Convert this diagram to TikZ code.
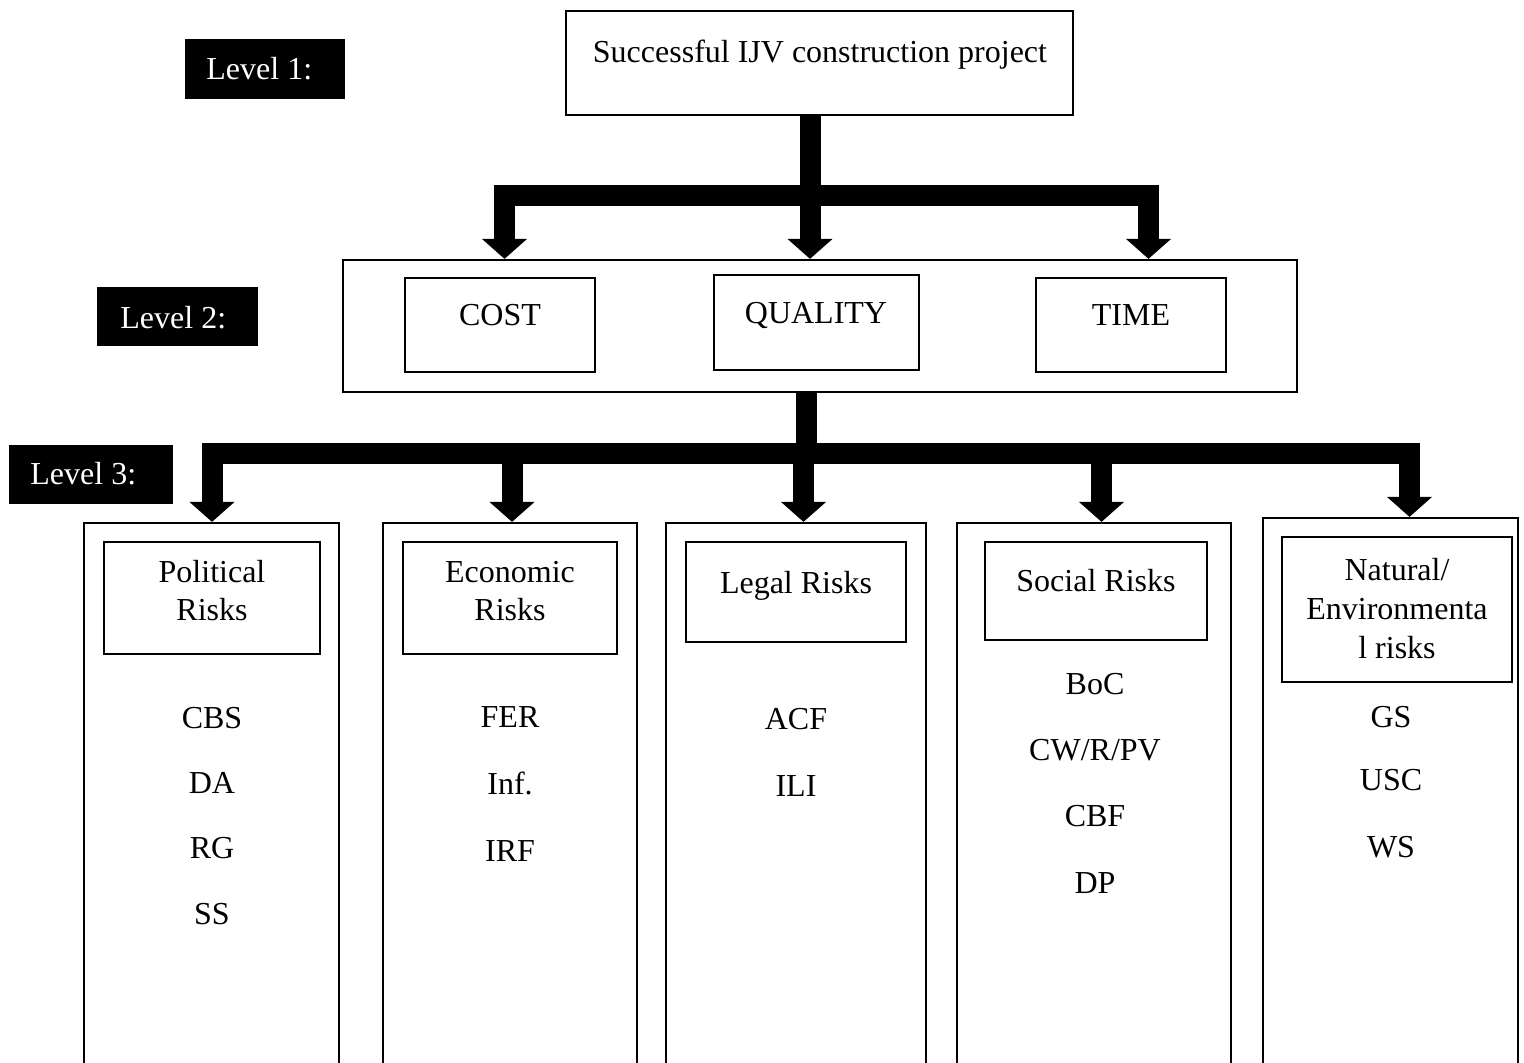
\documentclass[tikz,border=0pt]{standalone}
\usepackage{fontspec}
\setmainfont{Liberation Serif}
\usetikzlibrary{arrows.meta,fit}
\tikzset{
  bx/.style={draw=black, line width=1.1pt, inner sep=0pt, rectangle},
  lvl/.style={fill=black, draw=black, inner sep=0pt, rectangle},
  txt/.style={font=\fontsize{16}{19}\selectfont, inner sep=0pt, align=center},
  lvltxt/.style={txt, text=white},
  fat/.style={line width=10.5pt, line cap=butt},
  fatbar/.style={line width=10.5pt, line cap=rect},
  fatarrow/.style={line width=10.5pt, -{Triangle[width=22pt,length=10pt]}},
}
\begin{document}
\begin{tikzpicture}[x=0.5pt,y=-0.5pt]
\useasboundingbox (0,0) rectangle (1524,1063);
\clip (0,0) rectangle (1524,1063);

% Level 1
\node[lvl, fit={(185,39) (344,98)}] (lv1) {};
\node[lvltxt, anchor=base west] (lv1t) at (206,80) {Level 1:};
\node[bx, fit={(566,11) (1073,115)}] (top) {};
\node[txt, anchor=base] (topt) at (820,63) {Successful IJV construction project};

% Level 2
\node[lvl, fit={(97,287) (257,345)}] (lv2) {};
\node[lvltxt, anchor=base west] (lv2t) at (120,329) {Level 2:};
\node[bx, fit={(343,260) (1297,392)}] (l2) {};
\node[bx, fit={(405,278) (595,372)}] (cost) {};
\node[txt, anchor=base] (costt) at (500,326) {COST};
\node[bx, fit={(714,275) (919,370)}] (qual) {};
\node[txt, anchor=base] (qualt) at (816,324) {QUALITY};
\node[bx, fit={(1036,278) (1226,372)}] (time) {};
\node[txt, anchor=base] (timet) at (1131,326) {TIME};

% Level 3
\node[lvl, fit={(9,445) (172,503)}] (lv3) {};
\node[lvltxt, anchor=base west] (lv3t) at (30,485) {Level 3:};

\node[bx, fit={(84,523) (339,1080)}] (pol) {};
\node[bx, fit={(104,542) (320,654)}] (polh) {};
\node[txt] (polht) at (212,591) {Political\\Risks};
\node[txt, anchor=base] (p1) at (212,728) {CBS};
\node[txt, anchor=base] (p2) at (212,793) {DA};
\node[txt, anchor=base] (p3) at (212,858) {RG};
\node[txt, anchor=base] (p4) at (212,924) {SS};

\node[bx, fit={(383,523) (637,1080)}] (eco) {};
\node[bx, fit={(403,542) (617,654)}] (ecoh) {};
\node[txt] (ecoht) at (510,591) {Economic\\Risks};
\node[txt, anchor=base] (e1) at (510,727) {FER};
\node[txt, anchor=base] (e2) at (510,794) {Inf.};
\node[txt, anchor=base] (e3) at (510,861) {IRF};

\node[bx, fit={(666,523) (926,1080)}] (leg) {};
\node[bx, fit={(686,542) (906,642)}] (legh) {};
\node[txt, anchor=base] (leght) at (796,593) {Legal Risks};
\node[txt, anchor=base] (g1) at (796,729) {ACF};
\node[txt, anchor=base] (g2) at (796,796) {ILI};

\node[bx, fit={(957,523) (1231,1080)}] (soc) {};
\node[bx, fit={(985,542) (1207,640)}] (soch) {};
\node[txt, anchor=base] (socht) at (1096,591) {Social Risks};
\node[txt, anchor=base] (s1) at (1095,694) {BoC};
\node[txt, anchor=base] (s2) at (1095,760) {CW/R/PV};
\node[txt, anchor=base] (s3) at (1095,826) {CBF};
\node[txt, anchor=base] (s4) at (1095,893) {DP};

\node[bx, fit={(1263,518) (1518,1080)}] (nat) {};
\node[bx, fit={(1282,537) (1512,682)}] (nath) {};
\node[txt, font=\fontsize{16}{19.5}\selectfont] (natht) at (1397,609) {Natural/\\Environmenta\\l risks};
\node[txt, anchor=base] (n1) at (1391,727) {GS};
\node[txt, anchor=base] (n2) at (1391,790) {USC};
\node[txt, anchor=base] (n3) at (1391,857) {WS};

% Connectors level 1 -> level 2
\coordinate (a1) at (504.5,196);
\coordinate (a2) at (810,196);
\coordinate (a3) at (1148.5,196);
\draw[fat] (top.south -| a2) -- (a2);
\draw[fatbar] (a1) -- (a3);
\draw[fatarrow] (a1) -- (a1 |- l2.north);
\draw[fatarrow] (a2) -- (a2 |- l2.north);
\draw[fatarrow] (a3) -- (a3 |- l2.north);

% Connectors level 2 -> level 3
\coordinate (c0) at (806.5,454);
\coordinate (c1) at (212,454);
\coordinate (c2) at (512,454);
\coordinate (c3) at (803.5,454);
\coordinate (c4) at (1101.5,454);
\coordinate (c5) at (1409.5,454);
\draw[fat] (l2.south -| c0) -- (c0);
\draw[fatbar] (c1) -- (c5);
\draw[fatarrow] (c1) -- (c1 |- pol.north);
\draw[fatarrow] (c2) -- (c2 |- eco.north);
\draw[fatarrow] (c3) -- (c3 |- leg.north);
\draw[fatarrow] (c4) -- (c4 |- soc.north);
\draw[fatarrow] (c5) -- (c5 |- nat.north);
\end{tikzpicture}
\end{document}
